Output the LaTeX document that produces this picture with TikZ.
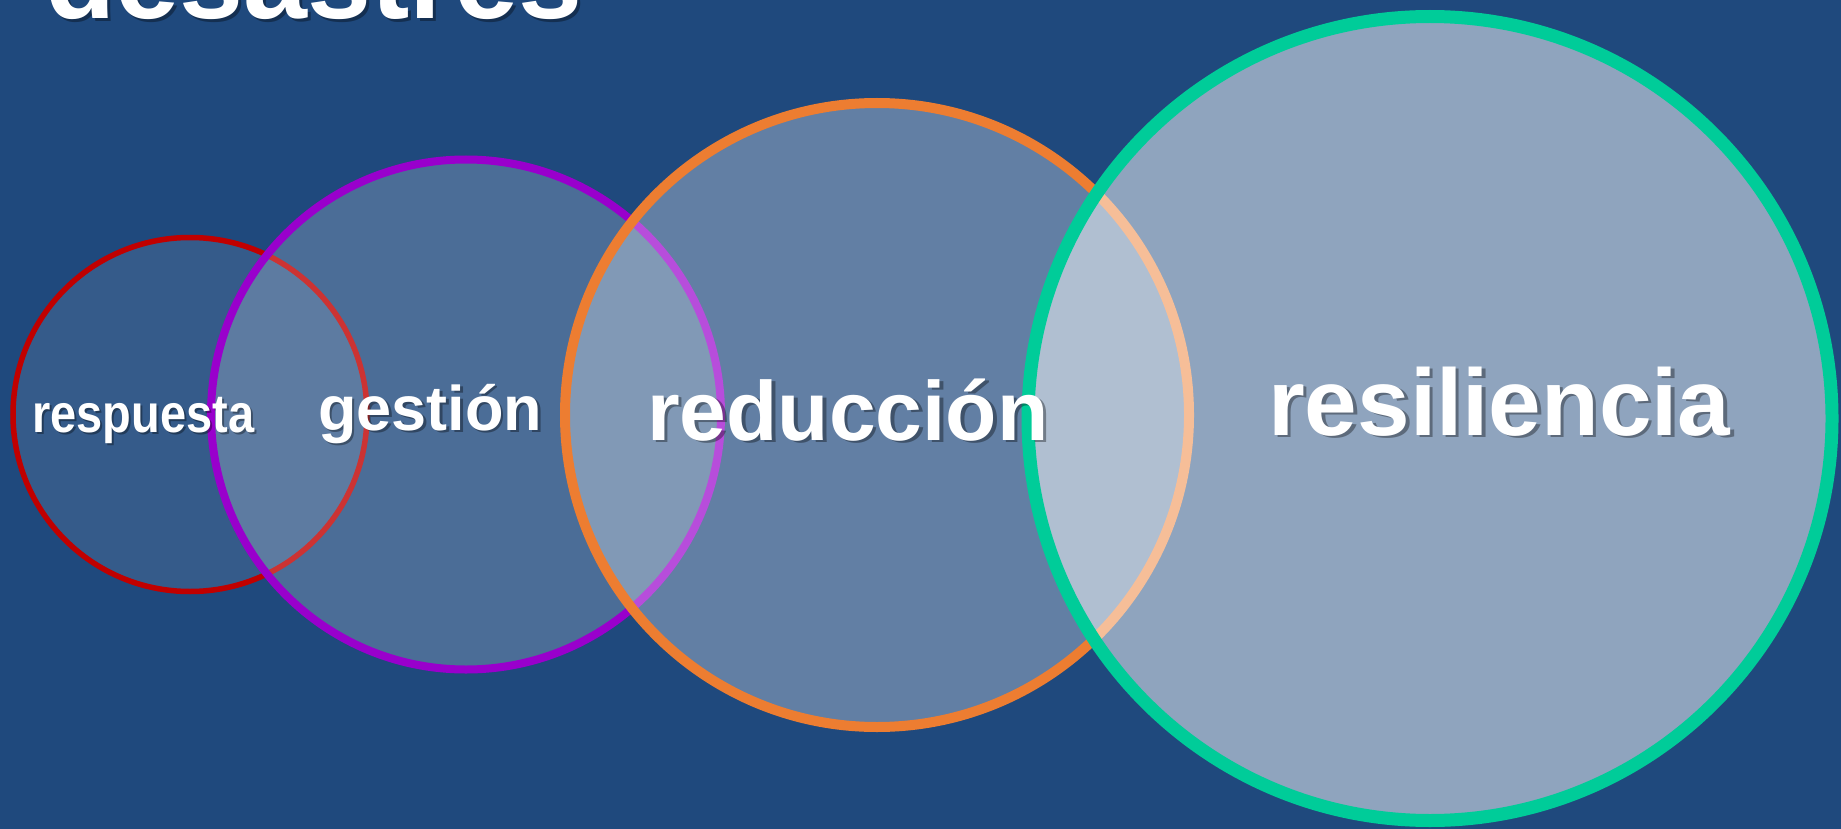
\documentclass[tikz,border=0pt]{standalone}
\usepackage{fontspec}
\setmainfont{Liberation Sans}
\usepackage{graphicx}
\definecolor{bg}{RGB}{31,73,125}
\definecolor{cred}{RGB}{192,0,0}
\definecolor{cpurple}{RGB}{153,0,204}
\definecolor{corange}{RGB}{237,125,49}
\definecolor{cgreen}{RGB}{0,204,153}
\begin{document}
\begin{tikzpicture}[x=1pt,y=-1pt,
  ring/.style={circle, fill=white, inner sep=0pt, outer sep=0pt},
  lbl/.style={inner sep=0pt, anchor=base west, text=white, font=\bfseries},
  shad/.style={inner sep=0pt, anchor=base west, text=black, text opacity=0.35, font=\bfseries}]
\fill[bg] (0,0) rectangle (1841,829);
\useasboundingbox (0,0) rectangle (1841,829);
% circles
\node[ring, minimum size=354pt, draw=cred, line width=5.5pt, fill opacity=0.1] (cresp) at (190,414.5) {};
\node[ring, minimum size=510pt, draw=cpurple, line width=8pt, fill opacity=0.2] (cgest) at (466,414.5) {};
\node[ring, minimum size=624pt, draw=corange, line width=10pt, fill opacity=0.3] (cred) at (877,415) {};
\node[ring, minimum size=804pt, draw=cgreen, line width=13pt, fill opacity=0.5] (cresi) at (1430,418.5) {};
% title
\node[shad, font=\bfseries\fontsize{115}{130}\selectfont] (ts) at (48,22) {desastres};
\node[lbl, font=\bfseries\fontsize{115}{130}\selectfont] (title) at (45,19) {desastres};
% labels
\node[shad, font=\bfseries\fontsize{54}{62}\selectfont] (s1) at (34,434) {\scalebox{0.87}[1]{respuesta}};
\node[lbl, font=\bfseries\fontsize{54}{62}\selectfont] (l1) at (32,432) {\scalebox{0.87}[1]{respuesta}};
\node[shad, font=\bfseries\fontsize{63}{72}\selectfont] (s2) at (320.5,432.5) {gestión};
\node[lbl, font=\bfseries\fontsize{63}{72}\selectfont] (l2) at (318,430) {gestión};
\node[shad, font=\bfseries\fontsize{84}{96}\selectfont] (s3) at (650.5,442.5) {reducción};
\node[lbl, font=\bfseries\fontsize{84}{96}\selectfont] (l3) at (647,440) {reducción};
\node[shad, font=\bfseries\fontsize{94.5}{110}\selectfont] (s4) at (1271.5,437.5) {resiliencia};
\node[lbl, font=\bfseries\fontsize{94.5}{110}\selectfont] (l4) at (1268,435) {resiliencia};
\end{tikzpicture}
\end{document}
